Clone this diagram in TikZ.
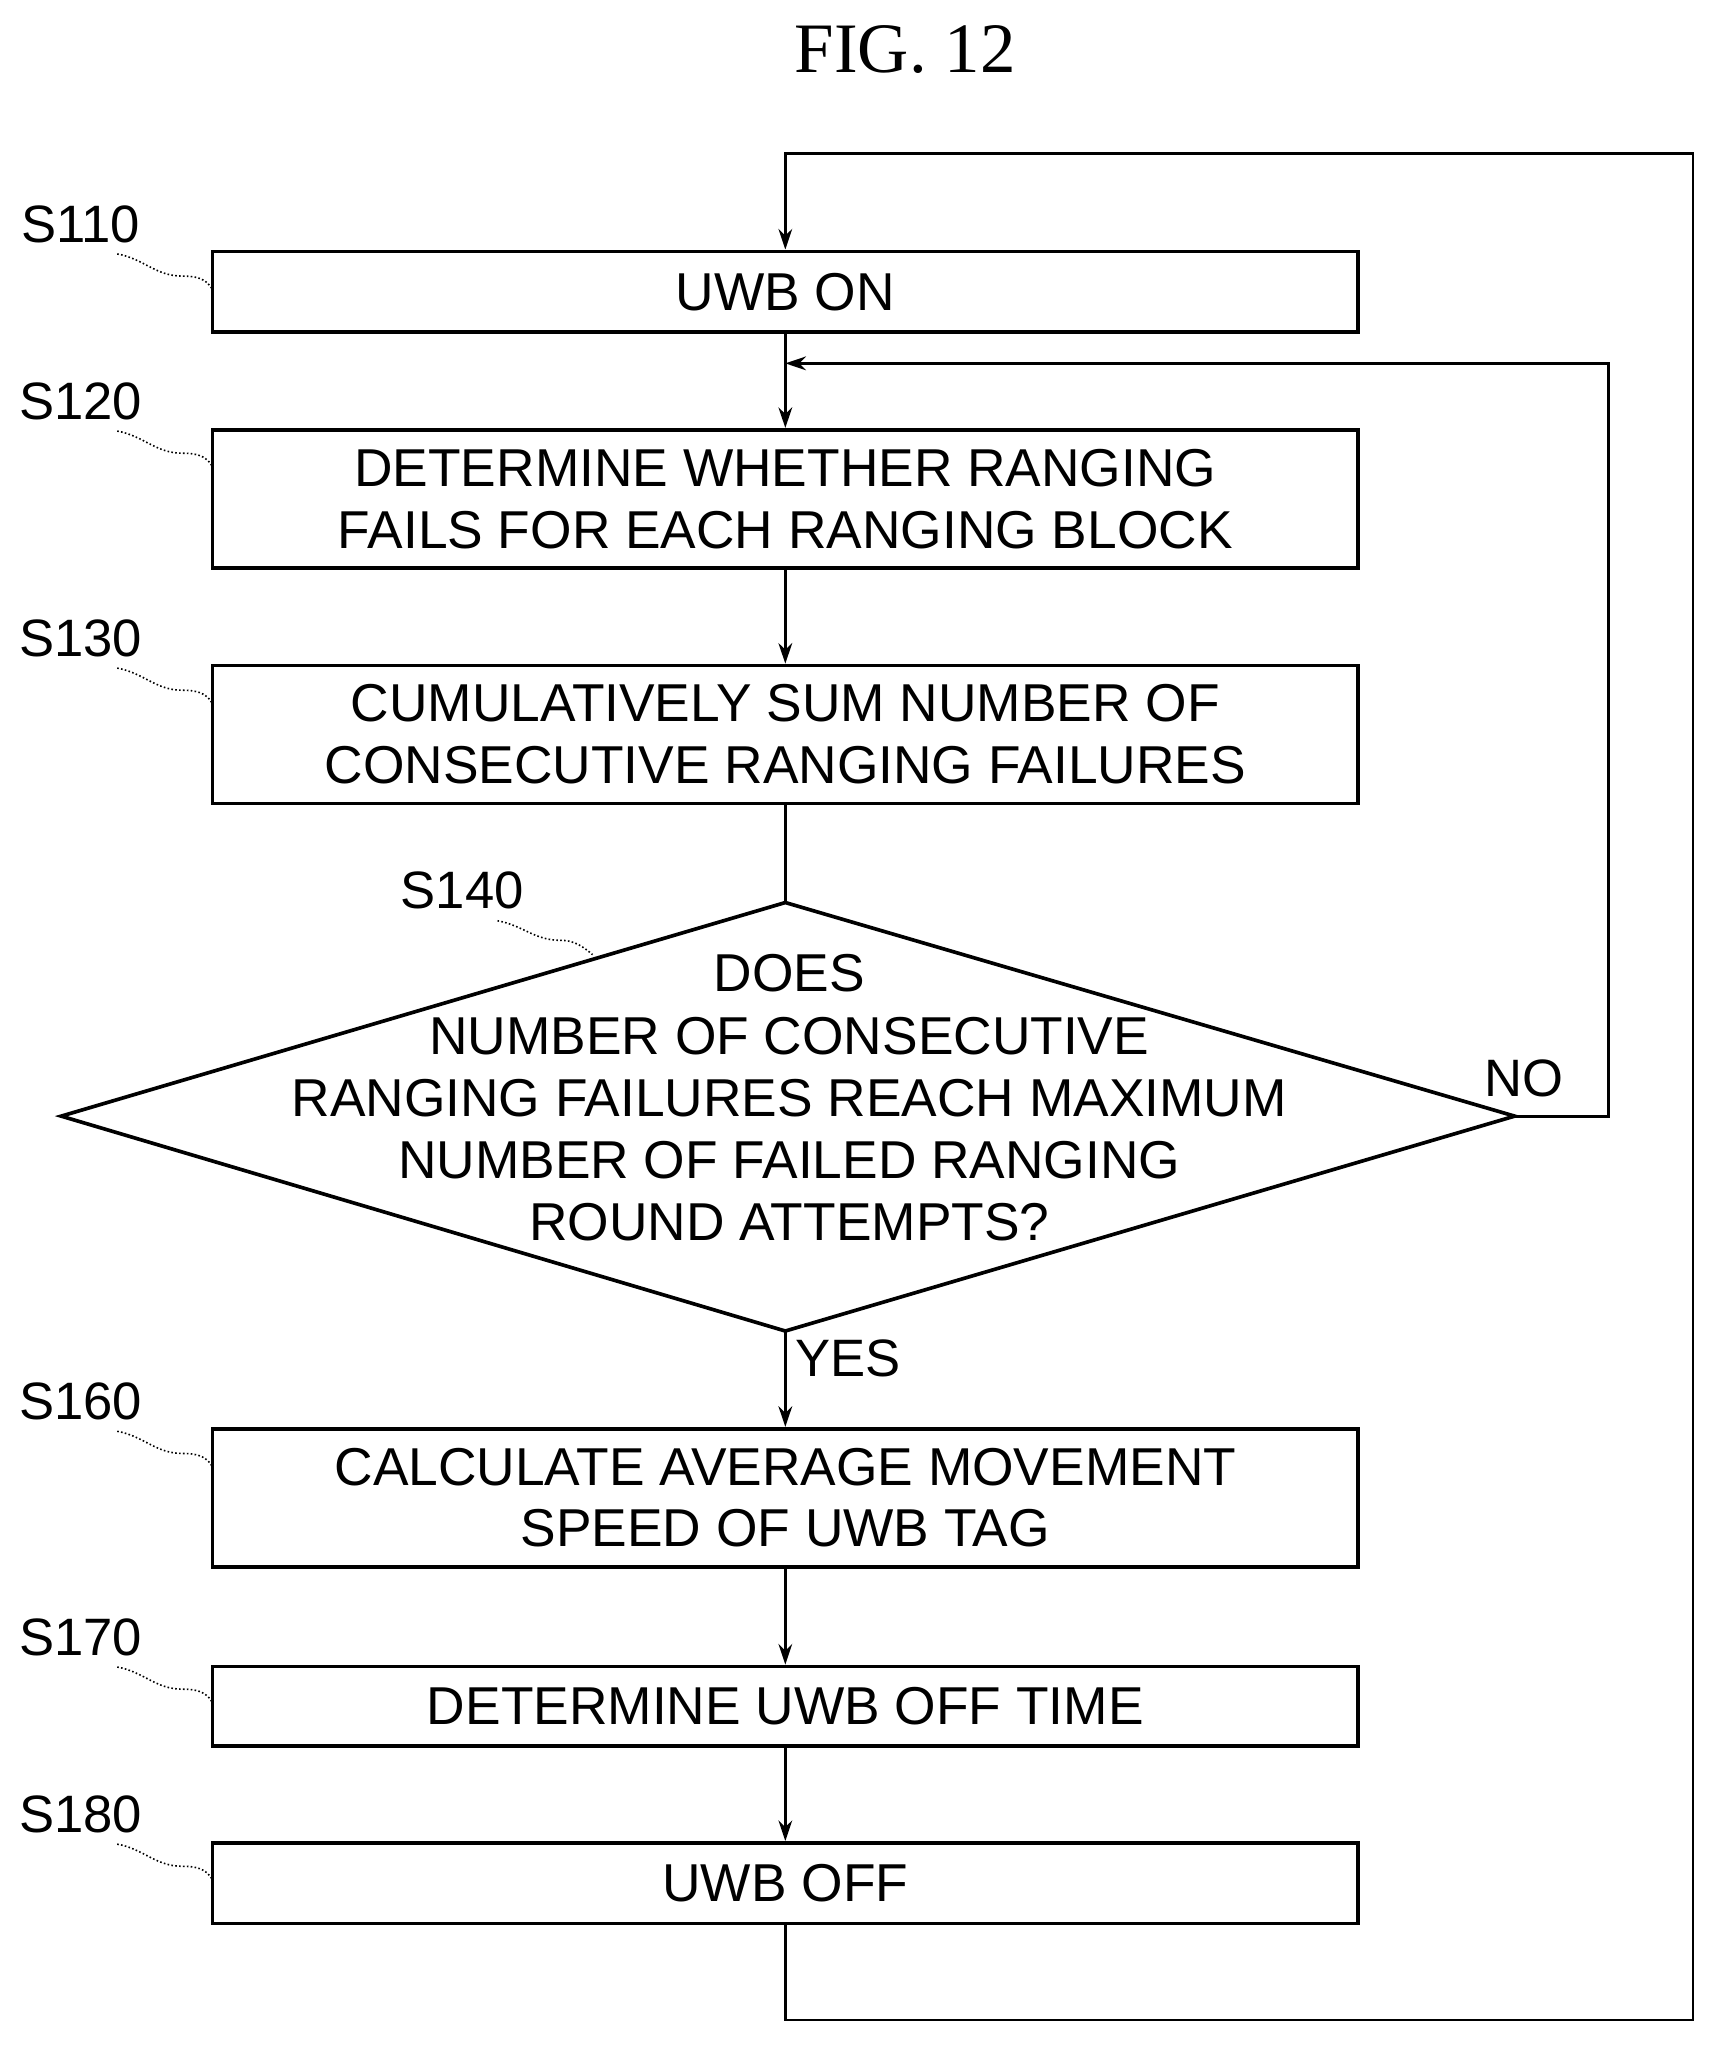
\documentclass[tikz,border=0pt]{standalone}
\usepackage{fontspec}
\setmainfont{Liberation Sans}
\newfontfamily\titlefont{Liberation Serif}
\usetikzlibrary{shapes.geometric,arrows.meta}
\begin{document}
\begin{tikzpicture}[x=0.02cm,y=-0.02cm,
 box/.style={draw,line width=1.6pt,minimum width=17.6cm,align=center,font=\fontsize{23.3}{27}\selectfont,inner sep=0pt},
 lbl/.style={font=\fontsize{23}{26}\selectfont},
 ld/.style={densely dotted,line width=0.7pt},
 ar/.style={line width=1.2pt,-{Stealth[length=9pt,width=6pt]}},
 ln/.style={line width=1.2pt}]
\useasboundingbox (0,0) rectangle (1320,1571);
\node[font=\titlefont\fontsize{31}{34}\selectfont] (t) at (695,38) {FIG. 12};
\node[box,minimum height=1.24cm] (b1) at (603,224) {UWB ON};
\node[box,minimum height=2.12cm] (b2) at (603,383) {DETERMINE WHETHER RANGING\\FAILS FOR EACH RANGING BLOCK};
\node[box,minimum height=2.12cm] (b3) at (603,564) {CUMULATIVELY SUM NUMBER OF\\CONSECUTIVE RANGING FAILURES};
\coordinate (dt) at (603,693); \coordinate (db) at (603,1022);
\coordinate (dl) at (47,857); \coordinate (dr) at (1163,857);
\draw[line width=1.6pt] (dt)--(dr)--(db)--(dl)--cycle;
\node[align=center,font=\fontsize{23.3}{27.2}\selectfont] (dtext) at (606,843) {DOES\\NUMBER OF CONSECUTIVE\\RANGING FAILURES REACH MAXIMUM\\NUMBER OF FAILED RANGING\\ROUND ATTEMPTS?};
\node[box,minimum height=2.12cm] (b6) at (603,1150) {CALCULATE AVERAGE MOVEMENT\\SPEED OF UWB TAG};
\node[box,minimum height=1.22cm] (b7) at (603,1310) {DETERMINE UWB OFF TIME};
\node[box,minimum height=1.24cm] (b8) at (603,1446) {UWB OFF};
\draw[ar] (b1.south)--(b2.north);
\draw[ar] (b2.south)--(b3.north);
\draw[ln] (b3.south)--(dt);
\draw[ar] (db)--(b6.north);
\draw[ar] (b6.south)--(b7.north);
\draw[ar] (b7.south)--(b8.north);
\coordinate (j1) at (603,279);
\coordinate (n1) at (1235,857); \coordinate (n2) at (1235,279);
\draw[ar] (dr)--(n1)--(n2)--(j1);
\coordinate (l1) at (603,1551); \coordinate (l2) at (1300,1551);
\coordinate (l3) at (1300,118); \coordinate (l4) at (603,118);
\draw[ar] (b8.south)--(l1)--(l2)--(l3)--(l4)--(b1.north);
\node[lbl] (no) at (1170,828) {NO};
\node[lbl] (yes) at (651,1043) {YES};
\foreach \n/\y in {110/172,120/308,130/490,160/1076,170/1257,180/1393}{
 \node[lbl] (s\n) at (62,\y) {S\n};
 \draw[ld] (90,\y+23) to[out=-10,in=180] (140,\y+40) to[out=0,in=120] (163,\y+50);
}
\node[lbl] (s140) at (355,684) {S140};
\draw[ld] (382,707) to[out=-10,in=180] (430,722) to[out=0,in=140] (455,733);
\end{tikzpicture}
\end{document}
